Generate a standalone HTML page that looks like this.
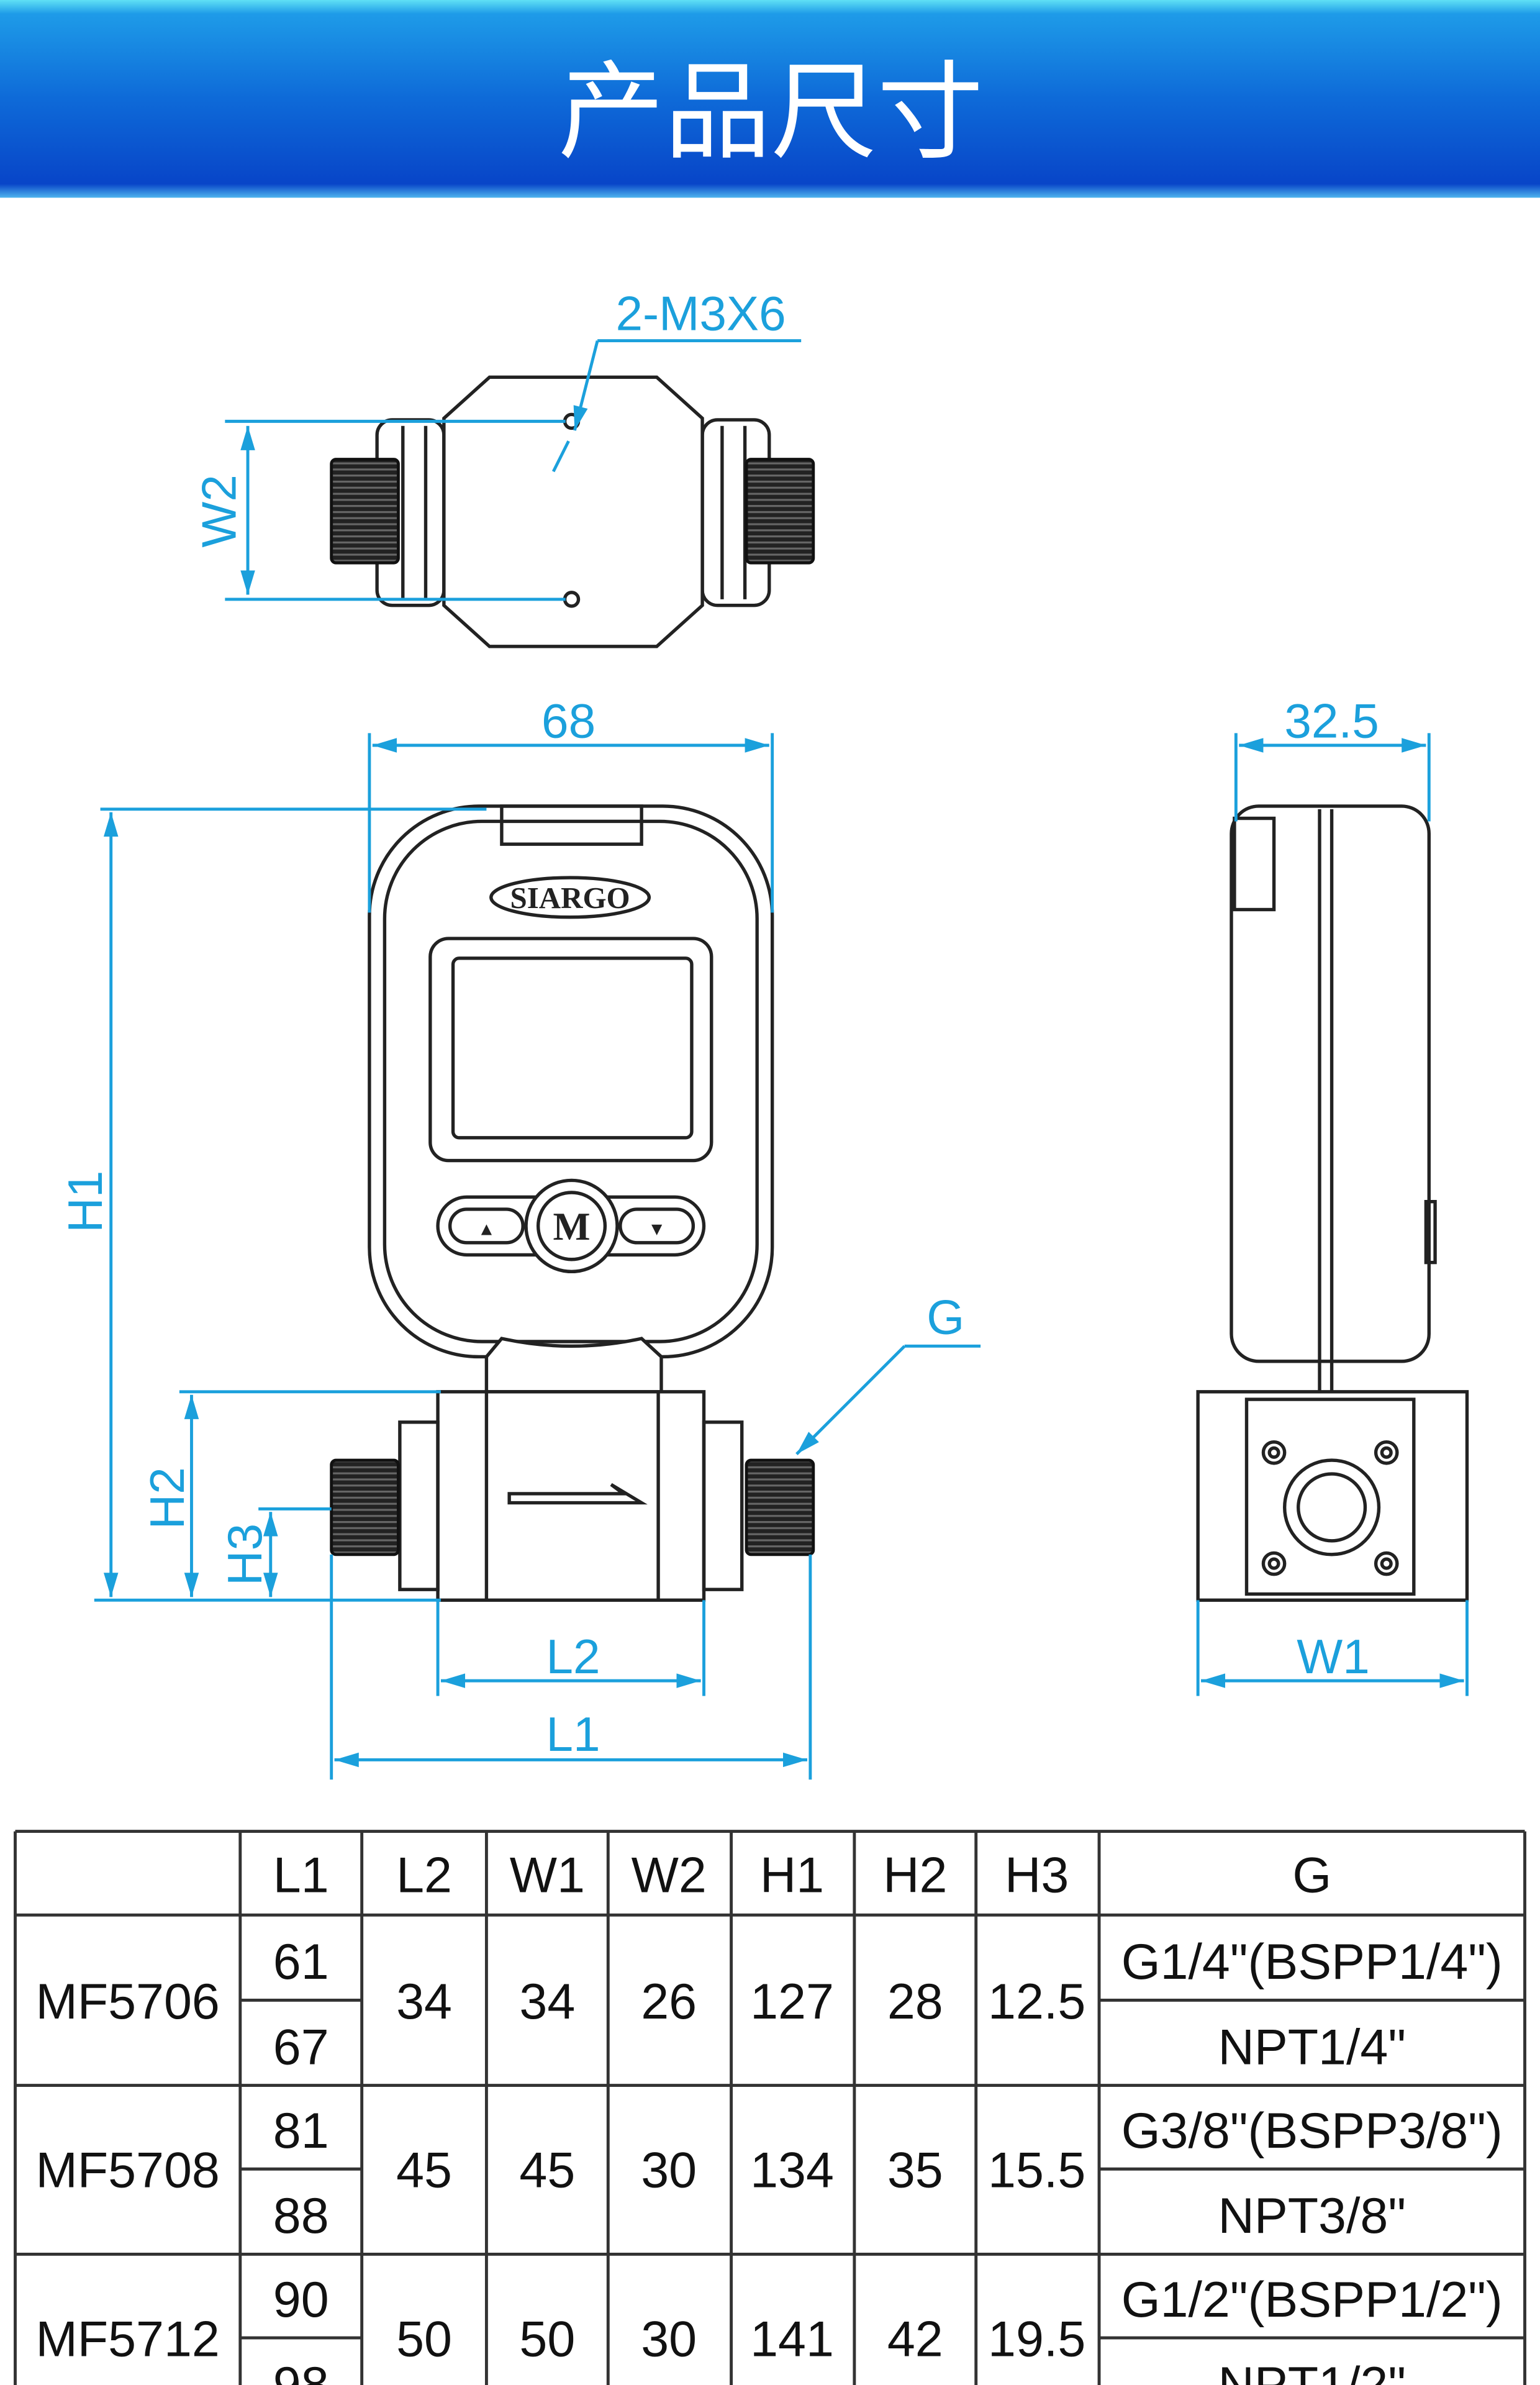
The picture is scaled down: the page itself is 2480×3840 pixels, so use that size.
<!DOCTYPE html>
<html><head><meta charset="utf-8"><style>html,body{margin:0;padding:0;background:#fff}svg{display:block}</style></head>
<body>
<svg xmlns="http://www.w3.org/2000/svg" width="2480" height="3840" viewBox="0 0 1013 1568" preserveAspectRatio="none">
<defs>
<linearGradient id="hg" x1="0" y1="0" x2="0" y2="1">
<stop offset="0" stop-color="#5fe0f5"/><stop offset="0.07" stop-color="#1e9be8"/><stop offset="0.5" stop-color="#0e6ad8"/><stop offset="0.93" stop-color="#0845c8"/><stop offset="1" stop-color="#4fb4ee"/>
</linearGradient>
<marker id="ar" viewBox="0 0 10 10" refX="10" refY="5" markerWidth="8" markerHeight="8" orient="auto-start-reverse"><path d="M0,2 L10,5 L0,8 z" fill="#1ba0dc"/></marker>
<pattern id="thr" width="4" height="4" patternUnits="userSpaceOnUse"><rect width="4" height="4" fill="#222"/><rect width="4" height="1.3" fill="#666"/></pattern>
</defs>
<rect width="1013" height="1568" fill="#fff"/>
<rect x="0" y="0" width="1013" height="130" fill="url(#hg)"/>
<text x="507" y="98" text-anchor="middle" font-family="'Noto Sans CJK SC','WenQuanYi Zen Hei',sans-serif" font-size="70" fill="#fff">产品尺寸</text>

<g fill="none" stroke="#222" stroke-width="2.2">
<!-- top view -->
<rect x="248" y="276" width="44" height="122" rx="10"/>
<line x1="265" y1="280" x2="265" y2="394"/><line x1="280" y1="280" x2="280" y2="394"/>
<rect x="462" y="276" width="44" height="122" rx="10"/>
<line x1="475" y1="280" x2="475" y2="394"/><line x1="490" y1="280" x2="490" y2="394"/>
<polygon points="322,248 432,248 462,275 462,398 432,425 322,425 292,398 292,275" fill="#fff"/>
<circle cx="376" cy="277" r="4.5"/><circle cx="376" cy="394" r="4.5"/>
<!-- front body -->
<rect x="243" y="530" width="265" height="362" rx="72" fill="#fff"/>
<rect x="253" y="540" width="245" height="342" rx="64"/>
<rect x="330" y="530" width="92" height="25"/>
<rect x="283" y="617" width="185" height="146" rx="12"/>
<rect x="298" y="630" width="157" height="118" rx="4"/>
<rect x="288" y="787" width="175" height="38" rx="19"/>
<rect x="296" y="795" width="48" height="22" rx="11"/>
<rect x="408" y="795" width="48" height="22" rx="11"/>
<circle cx="376" cy="806" r="30" fill="#fff"/><circle cx="376" cy="806" r="22"/>
<ellipse cx="375" cy="590" rx="52" ry="13"/>
<path d="M320,892 L330,880 Q376,890 422,880 L435,892 L435,915 L320,915 z" fill="#fff"/>
<!-- base -->
<rect x="288" y="915" width="175" height="137" fill="#fff"/>
<line x1="320" y1="915" x2="320" y2="1052"/><line x1="433" y1="915" x2="433" y2="1052"/>
<rect x="263" y="935" width="25" height="110"/><rect x="463" y="935" width="25" height="110"/>
<polygon points="335,982 410,982 402,976 422,988 335,988"/>
<!-- side view -->
<rect x="810" y="530" width="130" height="365" rx="18" fill="#fff"/>
<line x1="876" y1="532" x2="876" y2="915"/><line x1="868" y1="532" x2="868" y2="915"/>
<rect x="812" y="538" width="26" height="60"/>
<rect x="938" y="790" width="6" height="40"/>
<rect x="788" y="915" width="177" height="137" fill="#fff"/>
<rect x="820" y="920" width="110" height="128"/>
<circle cx="838" cy="955" r="7"/><circle cx="912" cy="955" r="7"/><circle cx="838" cy="1028" r="7"/><circle cx="912" cy="1028" r="7"/>
<circle cx="838" cy="955" r="3"/><circle cx="912" cy="955" r="3"/><circle cx="838" cy="1028" r="3"/><circle cx="912" cy="1028" r="3"/>
<circle cx="876" cy="991" r="31"/><circle cx="876" cy="991" r="22"/>
</g>
<g fill="url(#thr)" stroke="#111" stroke-width="2">
<rect x="218" y="302" width="44" height="68" rx="3"/><rect x="491" y="302" width="44" height="68" rx="3"/>
<rect x="218" y="960" width="44" height="62" rx="3"/><rect x="491" y="960" width="44" height="62" rx="3"/>
</g>
<text x="375" y="597" text-anchor="middle" font-family="'Liberation Serif',serif" font-weight="bold" font-size="20" fill="#222">SIARGO</text>
<text x="376" y="815" text-anchor="middle" font-family="'Liberation Serif',serif" font-weight="bold" font-size="26" fill="#222">M</text>
<text x="320" y="812" text-anchor="middle" font-size="12" fill="#222">▲</text>
<text x="432" y="812" text-anchor="middle" font-size="12" fill="#222">▼</text>

<!-- dimensions -->
<g stroke="#1ba0dc" stroke-width="2" fill="none">
<line x1="148" y1="277" x2="372" y2="277"/><line x1="148" y1="394" x2="372" y2="394"/>
<line x1="163" y1="280" x2="163" y2="391" marker-start="url(#ar)" marker-end="url(#ar)"/>
<line x1="393" y1="224" x2="527" y2="224"/>
<line x1="393" y1="224" x2="378" y2="283" marker-end="url(#ar)"/><line x1="374" y1="290" x2="364" y2="310"/>
<line x1="243" y1="482" x2="243" y2="600"/><line x1="508" y1="482" x2="508" y2="600"/>
<line x1="245" y1="490" x2="506" y2="490" marker-start="url(#ar)" marker-end="url(#ar)"/>
<line x1="813" y1="482" x2="813" y2="540"/><line x1="940" y1="482" x2="940" y2="540"/>
<line x1="815" y1="490" x2="938" y2="490" marker-start="url(#ar)" marker-end="url(#ar)"/>
<line x1="66" y1="532" x2="320" y2="532"/><line x1="62" y1="1052" x2="290" y2="1052"/>
<line x1="73" y1="534" x2="73" y2="1050" marker-start="url(#ar)" marker-end="url(#ar)"/>
<line x1="118" y1="915" x2="290" y2="915"/>
<line x1="126" y1="917" x2="126" y2="1050" marker-start="url(#ar)" marker-end="url(#ar)"/>
<line x1="170" y1="992" x2="218" y2="992"/>
<line x1="178" y1="994" x2="178" y2="1050" marker-start="url(#ar)" marker-end="url(#ar)"/>
<line x1="288" y1="1052" x2="288" y2="1115"/><line x1="463" y1="1052" x2="463" y2="1115"/>
<line x1="290" y1="1105" x2="461" y2="1105" marker-start="url(#ar)" marker-end="url(#ar)"/>
<line x1="218" y1="1022" x2="218" y2="1170"/><line x1="533" y1="1022" x2="533" y2="1170"/>
<line x1="220" y1="1157" x2="531" y2="1157" marker-start="url(#ar)" marker-end="url(#ar)"/>
<line x1="645" y1="885" x2="595" y2="885"/><line x1="595" y1="885" x2="524" y2="956" marker-end="url(#ar)"/>
<line x1="788" y1="1052" x2="788" y2="1115"/><line x1="965" y1="1052" x2="965" y2="1115"/>
<line x1="790" y1="1105" x2="963" y2="1105" marker-start="url(#ar)" marker-end="url(#ar)"/>
</g>
<g fill="#1ba0dc" font-family="'Liberation Sans',sans-serif" font-size="32" text-anchor="middle">
<text x="461" y="217">2-M3X6</text>
<text x="374" y="485">68</text>
<text x="876" y="485">32.5</text>
<text x="377" y="1100">L2</text>
<text x="377" y="1151">L1</text>
<text x="877" y="1100">W1</text>
<text x="622" y="877">G</text>
<text transform="translate(155,336) rotate(-90)">W2</text>
<text transform="translate(67,790) rotate(-90)">H1</text>
<text transform="translate(121,985) rotate(-90)">H2</text>
<text transform="translate(172,1022) rotate(-90)">H3</text>
</g>

<!-- table -->
<g stroke="#333" stroke-width="2">
<line x1="10" y1="1204" x2="1003" y2="1204"/>
<line x1="10" y1="1259" x2="1003" y2="1259"/>
<line x1="10" y1="1371" x2="1003" y2="1371"/>
<line x1="10" y1="1482" x2="1003" y2="1482"/>
<line x1="158" y1="1315" x2="238" y2="1315"/><line x1="158" y1="1426" x2="238" y2="1426"/><line x1="158" y1="1537" x2="238" y2="1537"/>
<line x1="723" y1="1315" x2="1003" y2="1315"/><line x1="723" y1="1426" x2="1003" y2="1426"/><line x1="723" y1="1537" x2="1003" y2="1537"/>
<line x1="10" y1="1204" x2="10" y2="1568"/><line x1="158" y1="1204" x2="158" y2="1568"/><line x1="238" y1="1204" x2="238" y2="1568"/>
<line x1="320" y1="1204" x2="320" y2="1568"/><line x1="400" y1="1204" x2="400" y2="1568"/><line x1="481" y1="1204" x2="481" y2="1568"/>
<line x1="562" y1="1204" x2="562" y2="1568"/><line x1="642" y1="1204" x2="642" y2="1568"/><line x1="723" y1="1204" x2="723" y2="1568"/><line x1="1003" y1="1204" x2="1003" y2="1568"/>
</g>
<g fill="#111" font-family="'Liberation Sans Narrow','Liberation Sans',sans-serif" font-size="33" text-anchor="middle">
<text x="198" y="1244">L1</text><text x="279" y="1244">L2</text><text x="360" y="1244">W1</text><text x="440" y="1244">W2</text>
<text x="521" y="1244">H1</text><text x="602" y="1244">H2</text><text x="682" y="1244">H3</text><text x="863" y="1244">G</text>
<text x="84" y="1327">MF5706</text><text x="198" y="1301">61</text><text x="198" y="1357">67</text>
<text x="279" y="1327">34</text><text x="360" y="1327">34</text><text x="440" y="1327">26</text><text x="521" y="1327">127</text><text x="602" y="1327">28</text><text x="682" y="1327">12.5</text>
<text x="863" y="1301">G1/4"(BSPP1/4")</text><text x="863" y="1357">NPT1/4"</text>
<text x="84" y="1438">MF5708</text><text x="198" y="1412">81</text><text x="198" y="1468">88</text>
<text x="279" y="1438">45</text><text x="360" y="1438">45</text><text x="440" y="1438">30</text><text x="521" y="1438">134</text><text x="602" y="1438">35</text><text x="682" y="1438">15.5</text>
<text x="863" y="1412">G3/8"(BSPP3/8")</text><text x="863" y="1468">NPT3/8"</text>
<text x="84" y="1549">MF5712</text><text x="198" y="1523">90</text><text x="198" y="1579">98</text>
<text x="279" y="1549">50</text><text x="360" y="1549">50</text><text x="440" y="1549">30</text><text x="521" y="1549">141</text><text x="602" y="1549">42</text><text x="682" y="1549">19.5</text>
<text x="863" y="1523">G1/2"(BSPP1/2")</text><text x="863" y="1579">NPT1/2"</text>
</g>
</svg>
</body></html>
